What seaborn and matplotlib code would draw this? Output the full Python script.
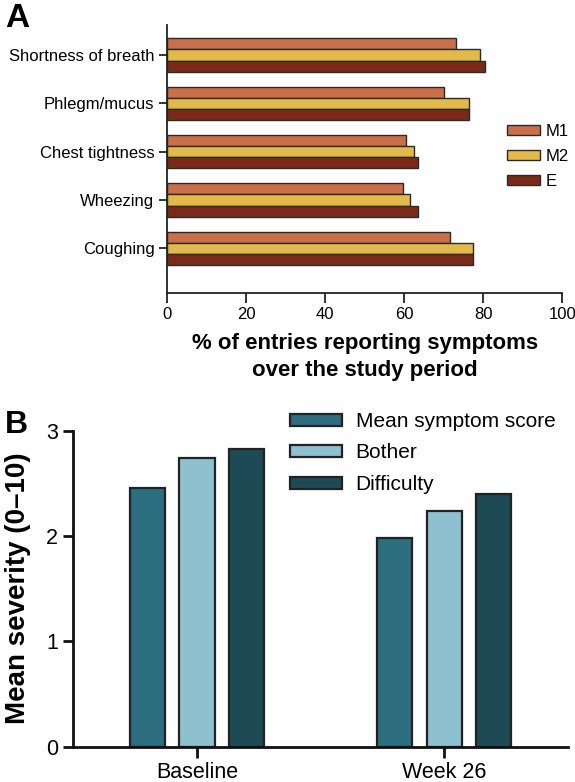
import matplotlib
matplotlib.use("Agg")
import matplotlib.pyplot as plt
import seaborn as sns
import pandas as pd

sns.set_theme(style="ticks")
plt.rcParams['font.family'] = ['Liberation Sans', 'DejaVu Sans']
plt.rcParams['text.color'] = 'black'
plt.rcParams['axes.labelcolor'] = 'black'
plt.rcParams['xtick.color'] = 'black'
plt.rcParams['ytick.color'] = 'black'

# ---- Panel A data ----
symptoms = ["Shortness of breath", "Phlegm/mucus", "Chest tightness", "Wheezing", "Coughing"]
groups_a = ["M1", "M2", "E"]
m1_vals = [73.2, 70.0, 60.5, 59.6, 71.5]
m2_vals = [79.1, 76.4, 62.5, 61.5, 77.3]
e_vals = [80.4, 76.5, 63.5, 63.5, 77.4]
x_ticks_a = [0, 20, 40, 60, 80, 100]

# ---- Panel B data ----
timepoints = ["Baseline", "Week 26"]
measures = ["Mean symptom score", "Bother", "Difficulty"]
mss_vals = [2.46, 1.98]
bother_vals = [2.74, 2.24]
difficulty_vals = [2.83, 2.40]
y_ticks_b = [0, 1, 2, 3]

pal_a = {"M1": "#c96f4a", "M2": "#e3b949", "E": "#7b2a19"}
pal_b = {"Mean symptom score": "#2d6e80", "Bother": "#8fc0cf", "Difficulty": "#1e4a56"}

rows_a = []
for g, vals in zip(groups_a, [m1_vals, m2_vals, e_vals]):
    for s, v in zip(symptoms, vals):
        rows_a.append({"symptom": s, "group": g, "pct": v})
df_a = pd.DataFrame(rows_a)

rows_b = []
for m, vals in zip(measures, [mss_vals, bother_vals, difficulty_vals]):
    for t, v in zip(timepoints, vals):
        rows_b.append({"time": t, "measure": m, "score": v})
df_b = pd.DataFrame(rows_b)

W, H = 575, 782
fig = plt.figure(figsize=(W / 100, H / 100), dpi=100)

# ---------- Panel A ----------
axA = fig.add_axes([167 / W, 1 - 293.3 / H, (562.3 - 167) / W, (293.3 - 25) / H])
sns.barplot(data=df_a, x="pct", y="symptom", hue="group", order=symptoms,
            hue_order=groups_a, palette=pal_a, orient="h", width=0.69, gap=0,
            saturation=1, edgecolor="#2a2a2a", linewidth=1.0, ax=axA, errorbar=None)
axA.set_xlim(0, 100)
axA.set_ylim(4.93, -0.62)
axA.set_xticks(x_ticks_a)
axA.set_xticklabels([str(t) for t in x_ticks_a])
axA.set_ylabel("")
axA.set_xlabel("% of entries reporting symptoms\nover the study period",
               fontsize=16, fontweight="bold", labelpad=8, linespacing=1.35)
for sp in ["top", "right"]:
    axA.spines[sp].set_visible(False)
for sp in ["left", "bottom"]:
    axA.spines[sp].set_linewidth(1.3)
    axA.spines[sp].set_color("#222222")
axA.tick_params(axis="x", length=7, width=1.3, labelsize=12, pad=3, color="#222222")
axA.tick_params(axis="y", length=6, width=1.3, labelsize=12, pad=3, color="#222222")
h, l = axA.get_legend_handles_labels()
axA.legend(h, l, loc="upper left", bbox_to_anchor=(507 / W, 1 - 124 / H),
           bbox_transform=fig.transFigure, frameon=False, fontsize=12,
           handlelength=1.95, handleheight=0.6, labelspacing=0.6,
           handletextpad=0.35, borderpad=0, borderaxespad=0)

fig.text(5 / W, 1 - 3 / H, "A", fontsize=24, fontweight="bold", va="top", ha="left")

# ---------- Panel B ----------
axB = fig.add_axes([73.3 / W, 1 - 746.6 / H, (568 - 73.3) / W, (746.6 - 430.7) / H])
sns.barplot(data=df_b, x="time", y="score", hue="measure", order=timepoints,
            hue_order=measures, palette=pal_b, width=0.6, gap=0.29,
            saturation=1, edgecolor="#222222", linewidth=1.6, ax=axB, errorbar=None)
axB.set_ylim(0, 3)
axB.set_xlim(-0.5, 1.5)
axB.set_yticks(y_ticks_b)
axB.set_yticklabels([str(t) for t in y_ticks_b])
axB.set_xlabel("")
axB.set_ylabel("Mean severity (0\u201310)", fontsize=20, fontweight="bold", labelpad=11)
for sp in ["top", "right"]:
    axB.spines[sp].set_visible(False)
for sp in ["left", "bottom"]:
    axB.spines[sp].set_linewidth(2.0)
    axB.spines[sp].set_color("#111111")
axB.tick_params(axis="x", length=8, width=2.0, labelsize=15.5, pad=3, color="#111111")
axB.tick_params(axis="y", length=7, width=2.0, labelsize=15.5, pad=4, color="#111111")
h, l = axB.get_legend_handles_labels()
axB.legend(h, l, loc="upper left", bbox_to_anchor=(290 / W, 1 - 412 / H),
           bbox_transform=fig.transFigure, frameon=False, fontsize=15,
           handlelength=2.5, handleheight=0.5, labelspacing=0.6,
           handletextpad=0.65, borderpad=0, borderaxespad=0)

fig.text(5 / W, 1 - 410 / H, "B", fontsize=23, fontweight="bold", va="top", ha="left")

fig.savefig("out.png", dpi=100)
